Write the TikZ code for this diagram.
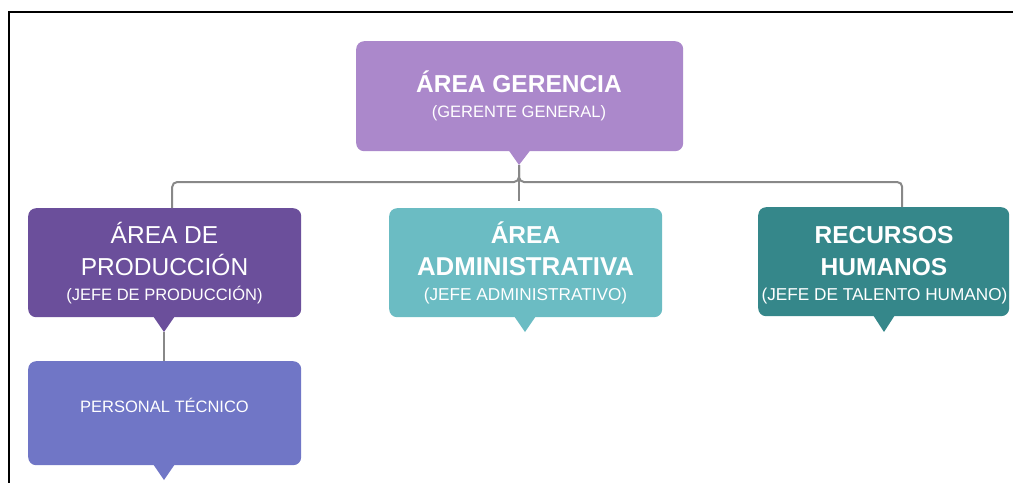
\documentclass[tikz,border=0pt]{standalone}
\usepackage{fontspec}
\setmainfont{Liberation Sans}
\definecolor{cGer}{HTML}{AB88CB}
\definecolor{cProd}{HTML}{6B4F9B}
\definecolor{cAdm}{HTML}{6BBCC3}
\definecolor{cRH}{HTML}{35878A}
\definecolor{cTec}{HTML}{7076C6}
\definecolor{cLine}{HTML}{888888}
\begin{document}
\begin{tikzpicture}[x=1pt,y=-1pt,
  box/.style={draw=none, rounded corners=8pt, inner sep=0pt, anchor=north west},
  big/.style={text=white, inner sep=0pt, anchor=base, font=\fontsize{24.5}{29}\selectfont},
  bigb/.style={big, font=\fontsize{24.5}{29}\selectfont\bfseries},
  small/.style={text=white, inner sep=0pt, anchor=base, font=\fontsize{16.5}{20}\selectfont},
  smallw/.style={small, font=\fontsize{17.2}{20}\selectfont},
  conn/.style={draw=cLine, line width=2pt, rounded corners=5pt},
  frameline/.style={draw=black, line width=1.5pt}]
\useasboundingbox (0,0) rectangle (1013,483);
% frame
\coordinate (fTR) at (1013,12);
\coordinate (fTL) at (9,12);
\coordinate (fBL) at (9,483);
\draw[frameline] (fTR) -- (fTL) -- (fBL);
% boxes
\node[box, fill=cGer, minimum width=327pt, minimum height=110pt] (ger) at (356,41) {};
\node[box, fill=cProd, minimum width=273pt, minimum height=109pt] (prod) at (28,208) {};
\node[box, fill=cAdm, minimum width=273pt, minimum height=109pt] (adm) at (389,208) {};
\node[box, fill=cRH, minimum width=251pt, minimum height=109pt] (rh) at (758,207) {};
\node[box, fill=cTec, minimum width=273pt, minimum height=104pt] (tec) at (28,361) {};
% callout pointers
\fill[cGer] (508.5,150) -- (530.5,150) -- (519,165) -- cycle;
\fill[cProd] (153,316) -- (175,316) -- (164,332) -- cycle;
\fill[cAdm] (514,316) -- (536,316) -- (525,332) -- cycle;
\fill[cRH] (873,315) -- (895,315) -- (884,332) -- cycle;
\fill[cTec] (153,464) -- (175,464) -- (164,480) -- cycle;
\coordinate (gerTip) at (519,165);
\coordinate (prodTip) at (164,332);
\coordinate (jn) at (519,182);
\coordinate (admTop) at (519,201);
% connectors
\draw[conn] ([xshift=7.5pt]prod.north) |- (jn) -- (gerTip);
\draw[conn] ([xshift=18.5pt]rh.north) |- (jn) -- (gerTip);
\draw[conn] (gerTip) -- (admTop);
\draw[conn] (prodTip) -- (prodTip |- tec.north);
% texts
\node[bigb] (gerT) at (519,92) {ÁREA GERENCIA};
\node[small] (gerS) at (519,117) {(GERENTE GENERAL)};
\node[big] (prodT1) at (164.5,243) {ÁREA DE};
\node[big] (prodT2) at (164.5,275) {PRODUCCIÓN};
\node[small] (prodS) at (164.5,300) {(JEFE DE PRODUCCIÓN)};
\node[bigb] (admT1) at (525.5,243) {ÁREA};
\node[bigb, font=\fontsize{25.8}{29}\selectfont\bfseries] (admT2) at (525.5,275) {ADMINISTRATIVA};
\node[smallw] (admS) at (525.5,300) {(JEFE ADMINISTRATIVO)};
\node[bigb] (rhT1) at (884,243) {RECURSOS};
\node[bigb] (rhT2) at (884,275) {HUMANOS};
\node[smallw] (rhS) at (884.5,300) {(JEFE DE TALENTO HUMANO)};
\node[small] (tecT) at (164.5,412) {PERSONAL TÉCNICO};
\end{tikzpicture}
\end{document}
